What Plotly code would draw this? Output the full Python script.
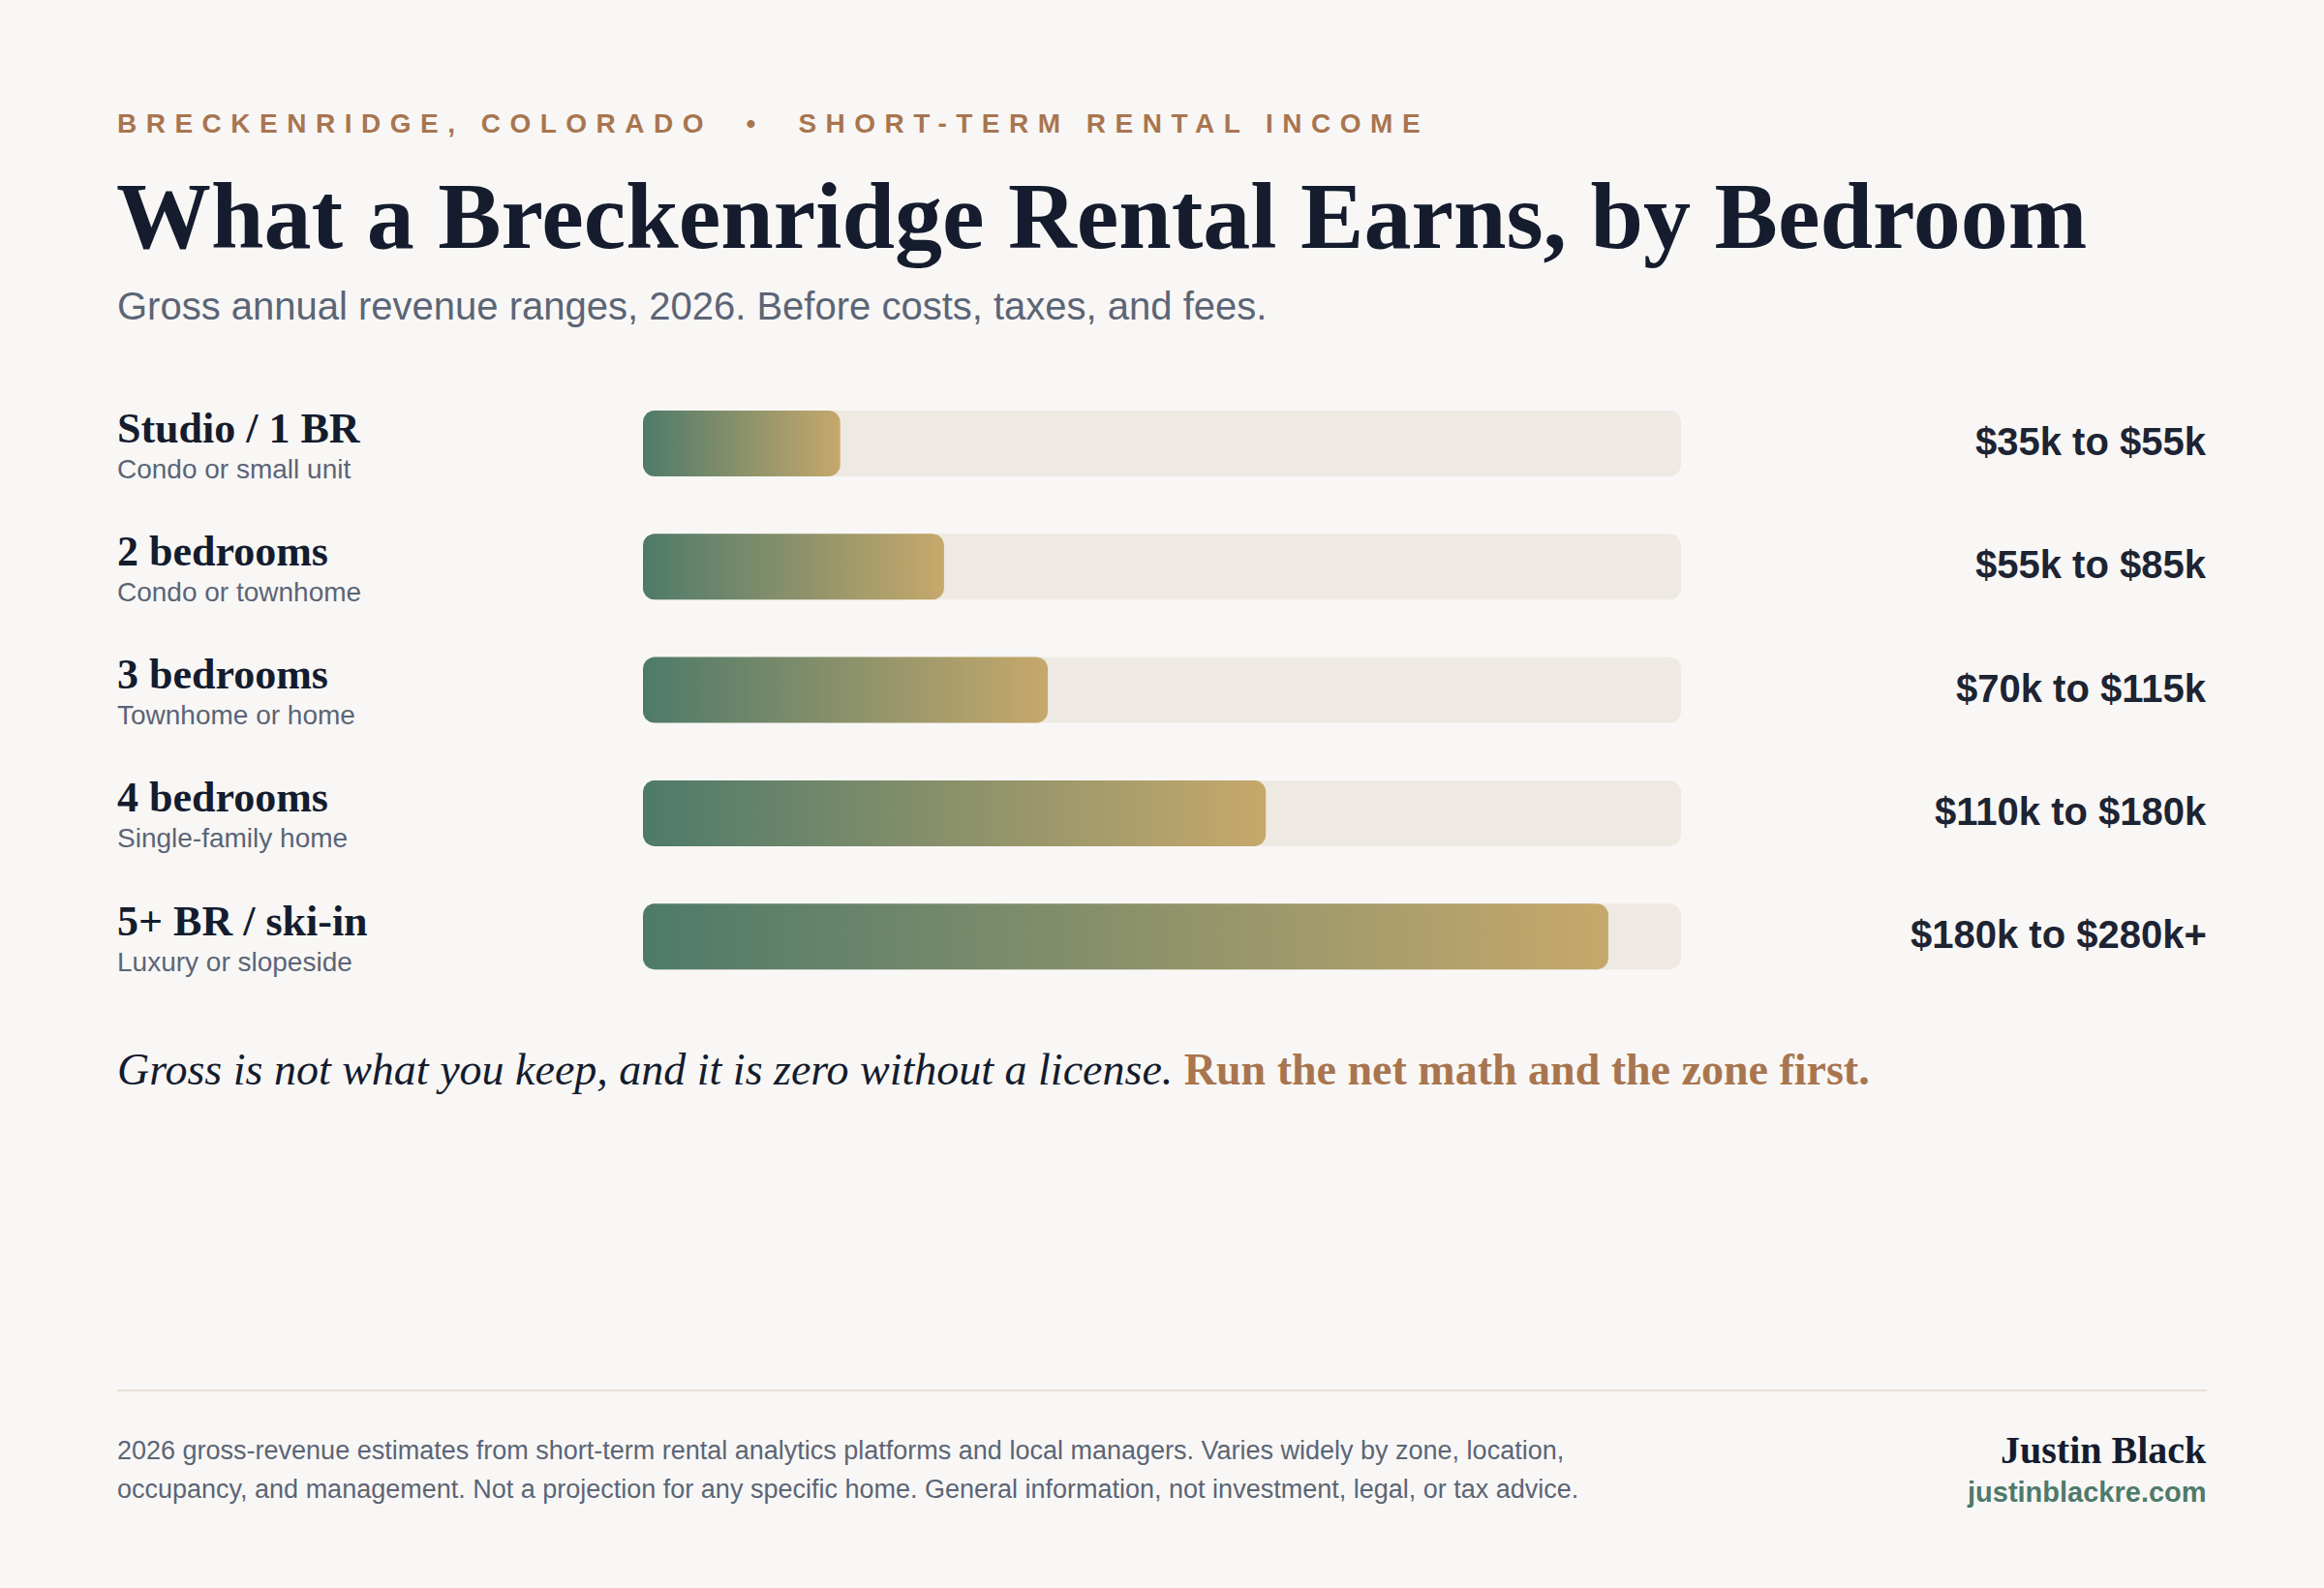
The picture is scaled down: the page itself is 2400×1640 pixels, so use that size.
import math
import plotly.graph_objects as go

# ---------------- data ----------------
bedroom_labels = ["Studio / 1 BR", "2 bedrooms", "3 bedrooms", "4 bedrooms", "5+ BR / ski-in"]
property_types = ["Condo or small unit", "Condo or townhome", "Townhome or home",
                  "Single-family home", "Luxury or slopeside"]
low_k = [35, 55, 70, 110, 180]
high_k = [55, 85, 115, 180, 280]
open_ended = [False, False, False, False, True]
bar_fill_pct = [19, 29, 39, 60, 93]   # bar length as % of the track

# ---------------- styling / layout constants ----------------
W, H = 2400, 1640
BG = "#f9f7f5"
TRACK = "#eee9e2"
GREEN = "#4e7a6a"
GOLD = "#c6a86b"
BROWN = "#a8754f"
NAVY = "#141c2e"
GREY = "#5b6576"
SANS = "Liberation Sans, Arial, Helvetica, sans-serif"
SERIF = "Liberation Serif, Times New Roman, Times, serif"

LEFT = 119
RIGHT = 2281
TRACK_X0, TRACK_X1 = 664, 1736
ROW0_Y = 458
ROW_STEP = 127.3
BAR_H = 68
RADIUS = 12

n = len(bedroom_labels)
px_per_x = (TRACK_X1 - TRACK_X0) / 100.0
px_per_y = ROW_STEP


def px(x):
    return x / W


def py(y):
    return 1 - y / H


def rounded_rect(x0, x1, yc, half_h, rx, ry, steps=10):
    xs, ys = [], []
    corners = [
        (x1 - rx, yc - half_h + ry, -90, 0),
        (x1 - rx, yc + half_h - ry, 0, 90),
        (x0 + rx, yc + half_h - ry, 90, 180),
        (x0 + rx, yc - half_h + ry, 180, 270),
    ]
    for cx, cy, a0, a1 in corners:
        for k in range(steps + 1):
            a = math.radians(a0 + (a1 - a0) * k / steps)
            xs.append(cx + rx * math.cos(a))
            ys.append(cy + ry * math.sin(a))
    xs.append(xs[0])
    ys.append(ys[0])
    return xs, ys


fig = go.Figure()

half_h = (BAR_H / 2) / px_per_y
rx = RADIUS / px_per_x
ry = RADIUS / px_per_y

# tracks
for i in range(n):
    xs, ys = rounded_rect(0, 100, i, half_h, rx, ry)
    fig.add_trace(go.Scatter(x=xs, y=ys, mode="lines", fill="toself",
                             fillcolor=TRACK, line=dict(width=0, color=TRACK),
                             hoverinfo="skip", showlegend=False))

# gradient bars
for i in range(n):
    xs, ys = rounded_rect(0, bar_fill_pct[i], i, half_h, rx, ry)
    fig.add_trace(go.Scatter(
        x=xs, y=ys, mode="lines", fill="toself",
        fillgradient=dict(type="horizontal", colorscale=[[0, GREEN], [1, GOLD]]),
        line=dict(width=0, color="rgba(0,0,0,0)"),
        hoverinfo="skip", showlegend=False))

annotations = []


def add_text(text, x, y, size, color, family, xanchor="left", weight="normal",
             style="normal", xref="paper", yref="paper"):
    annotations.append(dict(
        text=text, x=x, y=y, xref=xref, yref=yref, xanchor=xanchor, yanchor="middle",
        showarrow=False, align=xanchor,
        font=dict(size=size, color=color, family=family, weight=weight, style=style)))


# header
nb = "\u00a0"
header = "BRECKENRIDGE, COLORADO" + nb * 2 + "•" + nb * 2 + "SHORT-TERM RENTAL INCOME"
add_text('<span style="letter-spacing:9.5px">' + header + '</span>',
         px(LEFT), py(128), 28, BROWN, SANS, weight="bold")

# title and subtitle
add_text("What a Breckenridge Rental Earns, by Bedroom", px(LEFT - 1), py(223), 98, NAVY,
         SERIF, weight="bold")
add_text("Gross annual revenue ranges, 2026. Before costs, taxes, and fees.",
         px(LEFT), py(316), 40, GREY, SANS)

# row labels
for i in range(n):
    add_text(bedroom_labels[i], px(LEFT), i - 16 / px_per_y, 44, NAVY, SERIF,
             weight="bold", yref="y")
    add_text(property_types[i], px(LEFT), i + 26 / px_per_y, 28, GREY, SANS, yref="y")
    rng = f"${low_k[i]}k to ${high_k[i]}k" + ("+" if open_ended[i] else "")
    add_text(rng, px(RIGHT), i - 2 / px_per_y, 40, "#1d2433", SANS, xanchor="right",
             weight="bold", yref="y")

# closing line
quote = ("<i>Gross is not what you keep, and it is zero without a license.</i> "
         f'<b><span style="color:{BROWN}">Run the net math and the zone first.</span></b>')
add_text(quote, px(LEFT), py(1104), 46, NAVY, SERIF)

# footer
foot1 = ("2026 gross-revenue estimates from short-term rental analytics platforms and local "
         "managers. Varies widely by zone, location,")
foot2 = ("occupancy, and management. Not a projection for any specific home. General "
         "information, not investment, legal, or tax advice.")
add_text(foot1, px(LEFT), py(1498), 27, GREY, SANS)
add_text(foot2, px(LEFT), py(1538), 27, GREY, SANS)
add_text("Justin Black", px(RIGHT), py(1497), 40, NAVY, SERIF, xanchor="right", weight="bold")
add_text("justinblackre.com", px(RIGHT), py(1541), 29, GREEN, SANS, xanchor="right",
         weight="bold")

fig.update_layout(
    width=W, height=H,
    margin=dict(l=0, r=0, t=0, b=0),
    paper_bgcolor=BG, plot_bgcolor=BG,
    showlegend=False,
    annotations=annotations,
    shapes=[dict(type="line", xref="paper", yref="paper",
                 x0=px(121), x1=px(2279), y0=py(1436), y1=py(1436),
                 line=dict(color="#e6dfd3", width=2))],
    xaxis=dict(domain=[px(TRACK_X0), px(TRACK_X1)], range=[0, 100], visible=False,
               fixedrange=True),
    yaxis=dict(domain=[py(ROW0_Y + (n - 0.5) * ROW_STEP), py(ROW0_Y - 0.5 * ROW_STEP)],
               range=[n - 0.5, -0.5], visible=False, fixedrange=True),
)

fig.write_html("out.html", config={"displayModeBar": False},
               post_script=f"document.body.style.margin='0';"
                           f"document.body.style.background='{BG}';")
